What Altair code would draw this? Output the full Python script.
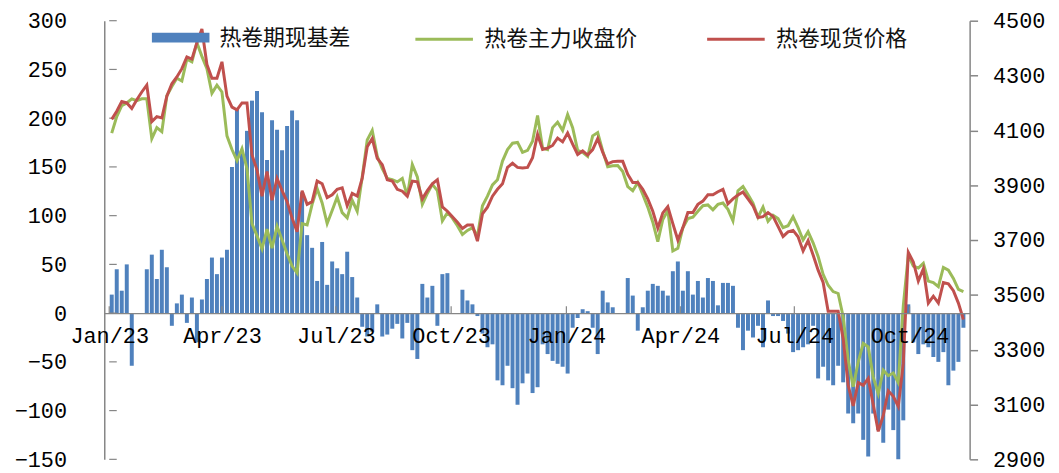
import altair as alt
import pandas as pd

# ---- data ----
dates = pd.date_range("2023-01-03", periods=171, freq="4D").strftime("%Y-%m-%d").tolist()

spot = [
    4140, 4170, 4205, 4200, 4180, 4212, 4240, 4265, 4132, 4150,
    4145, 4225, 4270, 4295, 4325, 4368, 4360, 4420, 4470, 4340,
    4290, 4290, 4350, 4225, 4185, 4175, 4200, 4200, 4010, 3955,
    3860, 3950, 3845, 3925, 3880, 3840, 3780, 3730, 3880, 3830,
    3840, 3915, 3905, 3855, 3865, 3885, 3890, 3825, 3870, 3860,
    3926, 4040, 4070, 3998, 3975, 3920, 3915, 3885, 3878, 3860,
    3915, 3912, 3850, 3880, 3905, 3920, 3821, 3805, 3785, 3765,
    3742, 3755, 3755, 3696, 3795, 3820, 3860, 3885, 3905, 3965,
    3980, 3965, 3963, 3965, 4000, 4085, 4030, 4035, 4045, 4072,
    4058, 4090, 4050, 4012, 4025, 4010, 4030, 4070, 4020, 3978,
    3986, 3987, 3987, 3940, 3910, 3910, 3885, 3850, 3805, 3744,
    3799, 3822, 3760, 3700, 3745, 3800, 3800, 3830, 3842, 3865,
    3865, 3876, 3885, 3832, 3850, 3864, 3875, 3850, 3825, 3782,
    3785, 3800, 3786, 3750, 3713, 3730, 3735, 3712, 3660, 3698,
    3645, 3590, 3545, 3440, 3440, 3440, 3340, 3170, 3095, 3180,
    3170, 3195, 3100, 3002, 3060, 3150, 3130, 3093, 3250, 3655,
    3620, 3550, 3595, 3470, 3495, 3470, 3545, 3540, 3515, 3470, 3410,
]

futures = [
    4090, 4150, 4190, 4200, 4215, 4208, 4215, 4215, 4070, 4110,
    4095, 4226, 4260, 4290, 4280, 4360, 4350, 4420, 4370, 4325,
    4235, 4265, 4240, 4080, 4030, 3990, 4033, 3960, 3760, 3715,
    3668, 3740, 3670, 3750, 3700, 3650, 3605, 3580, 3760, 3755,
    3830, 3888, 3835, 3760, 3808, 3857, 3800, 3781, 3845, 3805,
    3930, 4065, 4100, 4005, 3960, 3925, 3920, 3912, 3925, 3860,
    3975, 3930, 3830, 3870, 3903, 3880, 3770, 3800, 3780, 3752,
    3720, 3735, 3745, 3714, 3825, 3860, 3901, 3920, 3988, 4030,
    4053, 4056, 4020, 4027, 4060, 4154, 4035, 4030, 4110, 4130,
    4100, 4158, 4110, 4027, 4020, 4005, 4080, 4092, 4025, 3967,
    3971, 3972, 3950, 3895, 3880, 3910, 3866, 3820, 3765, 3694,
    3775, 3808, 3660, 3670, 3745, 3778, 3783, 3805, 3825, 3828,
    3810, 3830, 3835, 3812, 3770, 3880, 3895, 3866, 3835, 3783,
    3820, 3768, 3790, 3778, 3745, 3752, 3785, 3745, 3700, 3730,
    3690, 3640, 3575, 3535, 3512, 3505, 3420, 3260, 3165, 3255,
    3323, 3310, 3200, 3140, 3225, 3205, 3215, 3180, 3460, 3645,
    3605, 3598, 3615, 3550, 3545, 3530, 3600, 3590, 3560, 3520, 3512,
]

basis = [
    19, 45, 23, 50, -54, None, None, 45, 60, 35,
    65, 47, -13, 10, 19, -10, 16, -30, 14, 35,
    57, 40, 57, 65, 150, 210, 165, 187, 218, 228,
    206, 157, 198, 188, 167, 192, 208, 198, 124, 80,
    67, 33, 73, 29, 53, 46, 40, 63, 37, 16,
    -14, -24, -19, 9, -24, -22, -16, -11, -26, -10,
    -38, -47, 30, 16, 28, -13, 40, 41, None, None,
    24, 13, 9, -3, -21, -35, -32, -69, -74, -54,
    -77, -94, -72, -62, -82, -76, -32, -42, -49, -52,
    -55, -62, -15, -5, 4, 2, -15, -42, 23, 11,
    6, None, None, 36, 18, -18, 6, 23, 30, 28,
    23, 18, 43, 53, 23, 43, 19, 33, 16, 36,
    33, 8, 31, 31, 28, -15, -38, -18, -25, -13,
    -35, 13, -3, -3, -8, -21, -40, -38, -35, -32,
    -13, -67, -55, -69, -74, -54, -71, -103, -113, -103,
    -130, -147, -103, -120, -133, -99, -120, -150, -110, 9,
    -30, -42, -32, -35, -45, -50, -40, -74, -59, -50, -15,
]

bar_name = "热卷期现基差"
line_names = ["热卷主力收盘价", "热卷现货价格"]
bar_color = "#4F81BD"
line_colors = ["#9BBB59", "#C0504D"]
left_ticks = [-150, -100, -50, 0, 50, 100, 150, 200, 250, 300]
right_ticks = [2900, 3100, 3300, 3500, 3700, 3900, 4100, 4300, 4500]
quarter_starts = ["2023-01-01", "2023-04-01", "2023-07-01", "2023-10-01",
                  "2024-01-01", "2024-04-01", "2024-07-01", "2024-10-01"]

bar_df = pd.DataFrame({"date": dates, "value": basis, "series": bar_name})
fut_df = pd.DataFrame({"date": dates, "value": futures, "series": line_names[0]})
spot_df = pd.DataFrame({"date": dates, "value": spot, "series": line_names[1]})
qtick_df = pd.DataFrame({"date": quarter_starts})
ytick_df = pd.DataFrame({"value": left_ticks})

NUM_FONT = "Liberation Mono"
CJK_FONT = "Noto Sans CJK SC"
AXIS_GRAY = "#868686"


def utc_dt(s):
    y, m, d = (int(p) for p in s.split("-"))
    return alt.DateTime(year=y, month=m, date=d, utc=True)


x_scale = alt.Scale(type="utc", domain=[utc_dt("2023-01-01"), utc_dt("2024-11-14")])
x_axis = alt.Axis(
    values=[utc_dt(q) for q in quarter_starts],
    labelExpr="utcFormat(datum.value, '%b/%y')",
    labelFont=NUM_FONT, labelFontSize=22, labelColor="#000000",
    labelFlush=False, labelOverlap=False,
    domainColor=AXIS_GRAY, domainWidth=1.5,
    ticks=False, tickSize=0, labelPadding=13,
    offset=-147.33, grid=False, title=None, zindex=1,
)
x_enc = alt.X("date:T", scale=x_scale, axis=x_axis)

fill_enc = alt.Fill(
    "series:N",
    scale=alt.Scale(domain=[bar_name], range=[bar_color]),
    legend=alt.Legend(
        title=None, orient="none", direction="horizontal",
        legendX=48, legendY=-12,
        labelFont=CJK_FONT, labelFontSize=22, labelColor="#111111",
        symbolType="M-1,-0.17H1V0.17H-1Z", symbolSize=3364,
        symbolStrokeWidth=0, symbolOpacity=1, labelOffset=10,
    ),
)

stroke_enc = alt.Stroke(
    "series:N",
    scale=alt.Scale(domain=line_names, range=line_colors),
    legend=alt.Legend(
        title=None, orient="none", direction="horizontal",
        legendX=312, legendY=-12,
        labelFont=CJK_FONT, labelFontSize=22, labelColor="#111111",
        symbolType="stroke", symbolSize=3364, symbolStrokeWidth=3,
        labelOffset=10, columnPadding=63,
    ),
)

left_scale = alt.Scale(domain=[-150, 300], nice=False, zero=False)
left_axis = alt.Axis(
    orient="left", values=left_ticks, format="d", labelFont=NUM_FONT, labelFontSize=22,
    labelColor="#000000", ticks=False, tickSize=0, labelPadding=38,
    domainColor=AXIS_GRAY, domainWidth=1.5, grid=False, title=None,
)
left_y = alt.Y("value:Q", scale=left_scale, axis=left_axis)

right_y = alt.Y(
    "value:Q",
    scale=alt.Scale(domain=[2900, 4500], nice=False, zero=False),
    axis=alt.Axis(
        orient="right", values=right_ticks, format="d", labelFont=NUM_FONT, labelFontSize=22,
        labelColor="#000000", tickSize=8, tickColor=AXIS_GRAY, tickWidth=1.5,
        labelPadding=15, domainColor=AXIS_GRAY, domainWidth=1.5, grid=False, title=None,
    ),
)

bars = alt.Chart(bar_df).mark_bar(size=4).encode(x=x_enc, y=left_y, fill=fill_enc)

# small upward ticks on the date axis (at the zero line)
x_ticks = alt.Chart(qtick_df).mark_rule(color=AXIS_GRAY, strokeWidth=1.2).encode(
    x=x_enc, y=alt.YDatum(0, scale=left_scale, axis=left_axis), y2=alt.Y2Datum(7)
)
# small inward ticks on the left value axis
y_ticks = alt.Chart(ytick_df).mark_rule(color=AXIS_GRAY, strokeWidth=1.2).encode(
    y=left_y,
    x=alt.XDatum(utc_dt("2023-01-01"), scale=x_scale, axis=x_axis),
    x2=alt.X2Datum(utc_dt("2023-01-07")),
)

left = alt.layer(bars, x_ticks, y_ticks)

fut_line = alt.Chart(fut_df).mark_line(strokeWidth=3).encode(x=x_enc, y=right_y, stroke=stroke_enc)
spot_line = alt.Chart(spot_df).mark_line(strokeWidth=3).encode(x=x_enc, y=right_y, stroke=stroke_enc)
right = alt.layer(fut_line, spot_line)

chart = (
    alt.layer(left, right)
    .resolve_scale(y="independent")
    .properties(
        width=872, height=442,
        autosize=alt.AutoSizeParams(type="none"),
        padding={"left": 97, "top": 11, "right": 82, "bottom": 16},
        background="white",
    )
    .configure_view(strokeWidth=0)
)

chart.save("out.html", embed_options={"renderer": "svg", "actions": False})
